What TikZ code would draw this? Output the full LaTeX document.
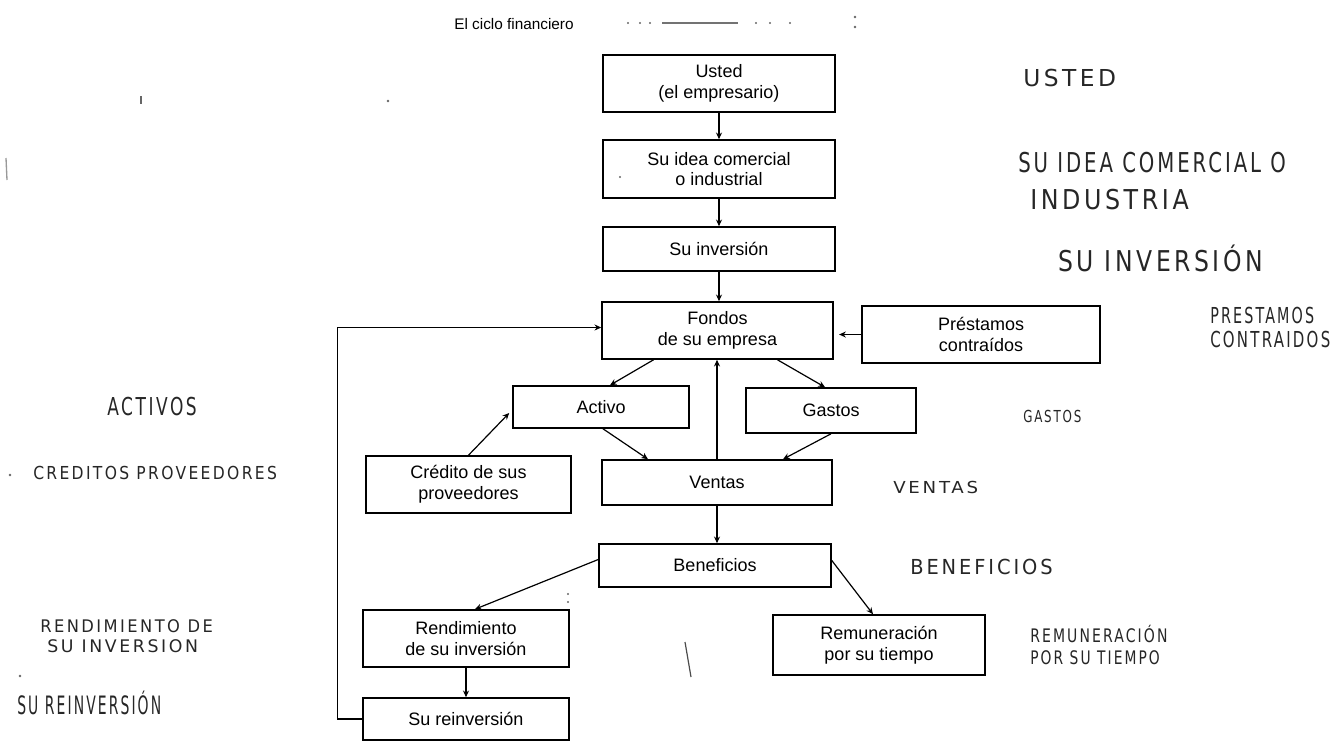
\documentclass[tikz,border=0pt]{standalone}
\usepackage{fontspec}
\setmainfont{Liberation Sans}
\newfontfamily\handfont[LetterSpace=15]{DejaVu Sans}
\usetikzlibrary{arrows.meta,calc}
\newcommand{\handtxt}[3]{\scalebox{#2}[1]{\handfont\fontsize{#1}{#1}\selectfont #3}}
\begin{document}
\begin{tikzpicture}[x=0.75pt,y=-0.75pt,
  box/.style={draw, line width=1.2pt, inner sep=0pt, align=center,
    font=\fontsize{13.5pt}{15.5pt}\selectfont},
  arr/.style={-{Stealth[length=5pt,width=4.5pt]}, line width=0.9pt},
  hand/.style={inner sep=0pt, anchor=west, text=black!85},
  speck/.style={fill=black!60}]
\useasboundingbox (0,0) rectangle (1333,743);

% title
\node[font=\fontsize{11.5pt}{13pt}\selectfont] (title) at (514,24) {El ciclo financiero};

% boxes
\node[box, minimum width=174pt, minimum height=42.75pt] (usted) at (719,83.5) {Usted\\(el empresario)};
\node[box, minimum width=174pt, minimum height=43.5pt] (idea) at (719,169) {Su idea comercial\\o industrial};
\node[box, minimum width=174pt, minimum height=33pt] (inversion) at (719,249) {Su inversión};
\node[box, minimum width=173.25pt, minimum height=42.75pt] (fondos) at (717.5,330.5) {Fondos\\de su empresa};
\node[box, minimum width=178.5pt, minimum height=42.75pt] (prestamos) at (981,334.5) {Préstamos\\contraídos};
\node[box, minimum width=132pt, minimum height=31.5pt] (activo) at (601,407) {Activo};
\node[box, minimum width=127.5pt, minimum height=33.75pt] (gastos) at (831,410.5) {Gastos};
\node[box, minimum width=153.75pt, minimum height=42.75pt] (credito) at (468.5,484.5) {Crédito de sus\\proveedores};
\node[box, minimum width=172.5pt, minimum height=33.75pt] (ventas) at (717,482.5) {Ventas};
\node[box, minimum width=174pt, minimum height=32.25pt] (beneficios) at (715,565.5) {Beneficios};
\node[box, minimum width=154.5pt, minimum height=42.75pt] (rendimiento) at (466,638.5) {Rendimiento\\de su inversión};
\node[box, minimum width=154.5pt, minimum height=31.5pt] (reinversion) at (466,719) {Su reinversión};
\node[box, minimum width=159pt, minimum height=45pt] (remuneracion) at (879,645) {Remuneración\\por su tiempo};

% connectors
\draw[arr] (usted.south) -- (usted.south |- idea.north);
\draw[arr] (idea.south) -- (idea.south |- inversion.north);
\draw[arr] (inversion.south) -- (inversion.south |- fondos.north);
\draw[arr, shorten >=4pt] (prestamos.west) -- (prestamos.west -| fondos.east);
\draw[arr] ($(fondos.south)+(-64,0)$) -- ($(activo.north)+(9,0)$);
\draw[arr] ($(fondos.south)+(60,0)$) -- ($(gastos.north)+(-6,0)$);
\draw[arr] (ventas.north) -- (ventas.north |- fondos.south);
\draw[arr] (ventas.south) -- (ventas.south |- beneficios.north);
\draw[arr] ($(activo.south)+(2,0)$) -- ($(ventas.north)+(-69,0)$);
\draw[arr] (gastos.south) -- ($(ventas.north)+(66,0)$);
\draw[arr] (credito.north) -- ($(activo.west)+(-3,6)$);
\draw[arr] ($(beneficios.west)+(0,-6)$) -- ($(rendimiento.north)+(9,0)$);
\draw[arr] ($(beneficios.east)+(0,-5)$) -- ($(remuneracion.north)+(-6,0)$);
\draw[arr] (rendimiento.south) -- (rendimiento.south |- reinversion.north);
\draw[arr] (reinversion.west) -- ++(-25,0) |- ($(fondos.west)+(0,-3)$);

% handwritten notes
\node[hand] (hUsted) at (1023,78) {\handtxt{17.5pt}{1.0}{USTED}};
\node[hand] (hIdea) at (1018,163) {\handtxt{20.5pt}{0.72}{SU IDEA COMERCIAL O}};
\node[hand] (hInd) at (1030,200) {\handtxt{20.5pt}{0.87}{INDUSTRIA}};
\node[hand] (hInv) at (1058,258) {\handtxt{21.5pt}{0.82}{SU INVERSIÓN}};
\node[hand] (hPres) at (1210,315) {\handtxt{16.5pt}{0.65}{PRESTAMOS}};
\node[hand] (hCont) at (1210,339) {\handtxt{16.5pt}{0.68}{CONTRAIDOS}};
\node[hand] (hGastos) at (1023,416) {\handtxt{12.4pt}{0.72}{GASTOS}};
\node[hand] (hAct) at (107,407) {\handtxt{18.5pt}{0.69}{ACTIVOS}};
\node[hand] (hCred) at (33,473) {\handtxt{13.4pt}{0.87}{CREDITOS PROVEEDORES}};
\node[hand] (hVentas) at (893,487) {\handtxt{12.4pt}{1.1}{VENTAS}};
\node[hand] (hBen) at (910,567) {\handtxt{15.5pt}{0.94}{BENEFICIOS}};
\node[hand] (hRend) at (40,626) {\handtxt{13pt}{0.94}{RENDIMIENTO DE}};
\node[hand] (hRend2) at (47,646) {\handtxt{13pt}{1.0}{SU INVERSION}};
\node[hand] (hReinv) at (17,703) {\handtxt{19pt}{0.55}{SU REINVERSIÓN}};
\node[hand] (hRem) at (1030,634) {\handtxt{14pt}{0.75}{REMUNERACIÓN}};
\node[hand] (hRem2) at (1030,658) {\handtxt{14pt}{0.74}{POR SU TIEMPO}};

% scan specks and stray marks
\draw[black!55, line width=0.8pt] (662,23) -- (738,23);
\foreach \px in {628,640,650,756,770,790} \fill[speck] (\px,23) circle (1.1);
\fill[speck] (855,17) circle (1.3); \fill[speck] (855,27) circle (1.3);
\fill[speck] (10,475) circle (1.3);
\fill[speck] (20,676) circle (1.3);
\fill[speck] (388,101) circle (1.4);
\fill[speck] (620,177) circle (1.2);
\draw[black!60, line width=0.8pt] (141,96) -- (141,104);
\draw[black!40, line width=1pt] (6,158) -- (7,180);
\fill[speck] (568,594) circle (1.2); \fill[speck] (568,602) circle (1.2);
\draw[black!70, line width=0.9pt] (685,642) -- (691,677);
\end{tikzpicture}
\end{document}
